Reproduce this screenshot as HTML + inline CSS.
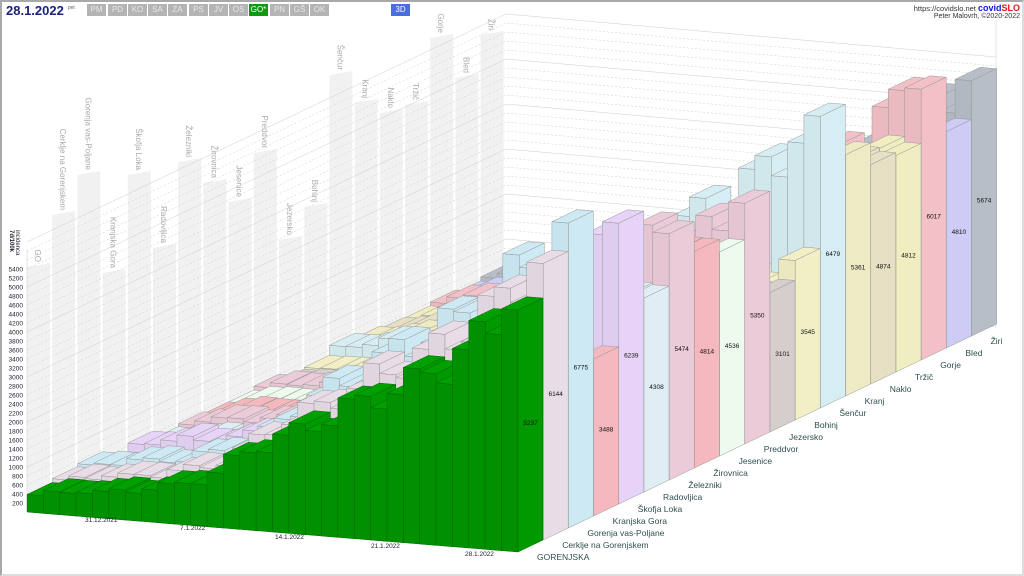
<!DOCTYPE html>
<html><head><meta charset="utf-8">
<style>
html,body{margin:0;padding:0;background:#fff;}
body{width:1024px;height:576px;overflow:hidden;position:relative;font-family:"Liberation Sans",sans-serif;}
#frame{position:absolute;left:0;top:0;width:1020px;height:572px;border:2px solid #a8a8a8;border-right-color:#ddd;border-bottom-color:#ddd;}
.btn{position:absolute;top:4px;height:12px;width:19px;background:#b4b4b4;color:#e8e8e8;font-size:8px;line-height:12px;text-align:center;}
</style></head><body>
<div id="frame"></div>
<svg id="s" width="1024" height="576" style="position:absolute;left:0;top:0" xmlns="http://www.w3.org/2000/svg" font-family="Liberation Sans, sans-serif"></svg>
<div style="position:absolute;left:6px;top:3px;font-size:13px;font-weight:bold;color:#1a237e;">28.1.2022<sup style="font-size:5px;font-weight:normal;color:#666;vertical-align:6px;margin-left:4px">pet</sup></div>
<div class="btn" style="left:87px">PM</div><div class="btn" style="left:108px">PD</div><div class="btn" style="left:128px">KO</div><div class="btn" style="left:148px">SA</div><div class="btn" style="left:168px">ZA</div><div class="btn" style="left:189px">PS</div><div class="btn" style="left:209px">JV</div><div class="btn" style="left:229px">OS</div><div class="btn" style="left:249px;background:#109a10;color:#fff">GO*</div><div class="btn" style="left:270px">PN</div><div class="btn" style="left:290px">GŠ</div><div class="btn" style="left:310px">OK</div>
<div class="btn" style="left:391px;background:#4a6ee0;color:#fff">3D</div>
<div style="position:absolute;right:4px;top:3px;font-size:7.5px;color:#333;">https://covidslo.net <b style="font-size:9px;color:#1515e0">covid<span style="color:#e01515">SLO</span></b></div>
<div style="position:absolute;right:4px;top:13px;font-size:7px;color:#333;">Peter Malovrh, ©2020-2022</div>
<script>
var S=document.getElementById('s'),NS='http://www.w3.org/2000/svg';
function el(t,a,txt){var e=document.createElementNS(NS,t);for(var k in a)e.setAttribute(k,a[k]);if(txt!==undefined)e.textContent=txt;S.appendChild(e);return e;}
function poly(p,f,st){el('polygon',{points:p.map(function(q){return q[0].toFixed(1)+','+q[1].toFixed(1)}).join(' '),fill:f,stroke:st,'stroke-width':0.5});}
var names=['GORENJSKA','Cerklje na Gorenjskem','Gorenja vas-Poljane','Kranjska Gora','Škofja Loka','Radovljica','Železniki','Žirovnica','Jesenice','Preddvor','Jezersko','Bohinj','Šenčur','Kranj','Naklo','Tržič','Gorje','Bled','Žiri'];
var vals=[5237,6144,6775,3488,6239,4308,5474,4814,4536,5350,3101,3545,6479,5361,4874,4812,6017,4810,5674];
var cols=['#009900','#e8dde6','#cdeaf4','#f5b8be','#e6d3f7','#dfeef5','#eccbd8','#f5b8bc','#eefaee','#eccbd8','#d6cdcd','#f2eec5','#d6eef3','#eeeac4','#e6dfc4','#f0eec0','#f2c0c6','#ccccf5','#b8bec8'];
var ptop=[267,215,175,273,175,248,162,183,202,153,240,207,75,103,113,105,38,78,35];
for(var k=0;k<19;k++){
  var x=27+25.2*k, yb=512-12*k;
  poly([[x,ptop[k]],[x+23,ptop[k]-4],[x+23,yb-12],[x,yb]],'#f1f1f1','none');
  var lab=k==0?'GO':names[k];
  el('text',{x:0,y:0,'font-size':8,fill:'#aaa','text-anchor':'end',transform:'translate('+(x+8)+','+(ptop[k]-5)+') rotate(90)'},lab);
}
for(var v=0;v<=6000;v+=200){
  var y=512-0.045*v;
  el('polyline',{points:'27,'+y+' 506,'+(y-228)+' 996,'+(y-185),fill:'none',stroke:'#ccc','stroke-width':0.5,'stroke-dasharray':v%1000==0?'':'2,2'});
  if(v>=200&&v<=5400)el('text',{x:23,y:y+2.5,'font-size':6.5,fill:'#223','text-anchor':'end'},v);
}
el('line',{x1:27,y1:250,x2:27,y2:512,stroke:'#ccc','stroke-width':0.5});
el('line',{x1:996,y1:20,x2:996,y2:327,stroke:'#ccc','stroke-width':0.5});
el('text',{x:0,y:0,'font-size':6,fill:'#223','font-weight':'bold',transform:'translate(10,230) rotate(90)'},'7d/100k');
el('text',{x:0,y:0,'font-size':6,fill:'#223',transform:'translate(16,230) rotate(90)'},'incidenca');
var gp=[380,450,500,560,560,600,650,750,800,870,1000,1200,1450,1700,1900,2050,2200,2400,2600,2800,2950,3150,3300,3450,3700,3900,4200,4500,4900,5237];
function shade(c,f){var n=parseInt(c.slice(1),16),r=n>>16,g=(n>>8)&255,b=n&255;r=Math.round(r*f);g=Math.round(g*f);b=Math.round(b*f);return 'rgb('+r+','+g+','+b+')';}
var DX=16.36, DY=1.33;
for(var k=18;k>=0;k--){
  var seed=k*7;
  for(var d=0;d<30;d++){
    var noise=1+0.1*Math.sin(seed+d*1.7)*(d<29?1:0);
    var v=vals[k]*(gp[d]/5237)*noise;
    var sc=k==0?0.0462:0.045;
    var x=518+25.2*k-DX*(29-d), yb=552-12*k-DY*(29-d);
    var h=v*sc, c=cols[k], st=k==0?'#006600':'#999';
    var BL=[x,yb],BR=[x+25,yb-12],TR=[x+25,yb-12-h],TL=[x,yb-h];
    var o=[-16.5,-1.4];
    function a(p){return [p[0]+o[0],p[1]+o[1]];}
    poly([BL,TL,a(TL),a(BL)],k==0?'#009000':shade(c,0.97),st);
    poly([TL,TR,a(TR),a(TL)],k==0?'#00a000':c,st);
    poly([BL,BR,TR,TL],c,st);
    if(d==29){
      el('text',{x:x+12.5,y:yb-6-h/2,'font-size':6.5,fill:'#111','text-anchor':'middle'},vals[k]);
      el('text',{x:x+19,y:yb+8,'font-size':8.5,fill:'#2f4f4f'},names[k]);
    }
  }
}
var dl=[['31.12.2021',85,522],['7.1.2022',180,530],['14.1.2022',275,539],['21.1.2022',371,548],['28.1.2022',465,556]];
dl.forEach(function(q){el('text',{x:q[1],y:q[2],'font-size':6.5,fill:'#223'},q[0]);});
</script>
</body></html>
